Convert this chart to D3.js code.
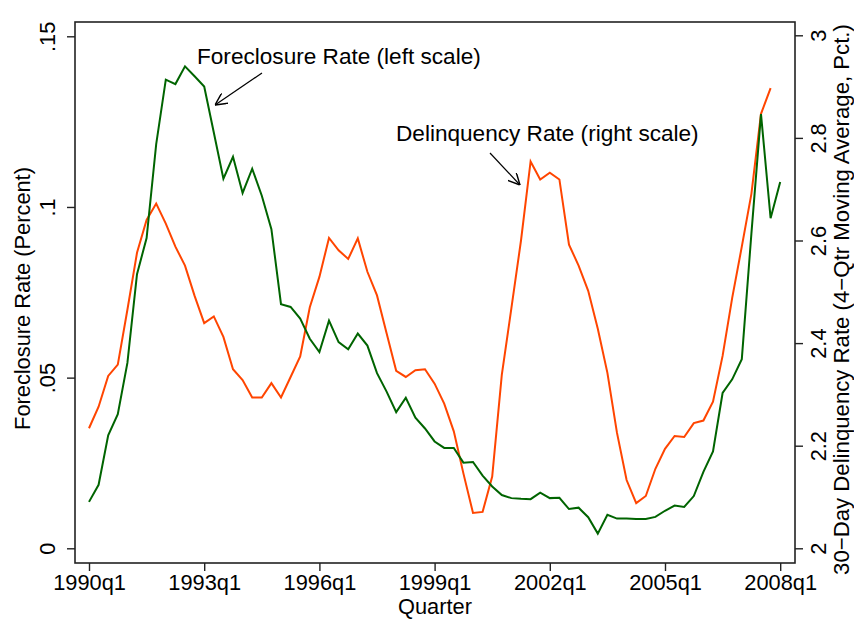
<!DOCTYPE html>
<html><head><meta charset="utf-8">
<script src="https://cdn.jsdelivr.net/npm/d3@7"></script>
<style>
html,body{margin:0;padding:0;background:#fff;}
svg{display:block;font-family:"Liberation Sans",Arial,Helvetica,sans-serif;}
</style></head>
<body><svg id="chart" width="854" height="619"></svg>
<script>
// ---- data ----
const quarters = [];
for (let y = 1990; y <= 2008; y++) for (let q = 1; q <= 4; q++) { if (y === 2008 && q > 1) break; quarters.push(y + "q" + q); }

const foreclosureRate = [
  0.0136,0.0186,0.0331,0.0393,0.0543,0.0803,0.0909,0.1184,0.1373,0.1360,
  0.1412,0.1383,0.1353,0.1218,0.1083,0.1147,0.1041,0.1112,0.1033,0.0935,
  0.0715,0.0707,0.0673,0.0614,0.0575,0.0667,0.0604,0.0583,0.0629,0.0594,
  0.0513,0.0459,0.0399,0.0441,0.0383,0.0351,0.0313,0.0294,0.0294,0.0251,
  0.0253,0.0213,0.0181,0.0156,0.0147,0.0145,0.0144,0.0163,0.0147,0.0148,
  0.0115,0.0119,0.0091,0.0043,0.0098,0.0087,0.0087,0.0086,0.0086,0.0092,
  0.0110,0.0125,0.0121,0.0153,0.0224,0.0284,0.0455,0.0495,0.0554,0.0922,
  0.1272,0.0967,0.1073
];
const delinquencyRate = [
  2.234,2.276,2.336,2.358,2.465,2.576,2.640,2.672,2.633,2.588,
  2.551,2.492,2.439,2.452,2.412,2.349,2.328,2.294,2.294,2.322,
  2.294,2.334,2.374,2.470,2.529,2.605,2.581,2.564,2.604,2.539,
  2.493,2.419,2.346,2.334,2.347,2.349,2.321,2.282,2.228,2.146,
  2.069,2.071,2.140,2.338,2.468,2.600,2.754,2.719,2.732,2.719,
  2.592,2.551,2.502,2.428,2.342,2.225,2.133,2.088,2.102,2.155,
  2.194,2.219,2.217,2.244,2.249,2.286,2.375,2.488,2.588,2.691,
  2.847,2.897
];
const xTickLabels = ["1990q1","1993q1","1996q1","1999q1","2002q1","2005q1","2008q1"];
const leftTicks = [0, 0.05, 0.1, 0.15];
const leftTickLabels = ["0", ".05", ".1", ".15"];
const rightTicks = [2, 2.2, 2.4, 2.6, 2.8, 3];
const rightTickLabels = ["2", "2.2", "2.4", "2.6", "2.8", "3"];

// ---- layout ----
const svg = d3.select("#chart");
const frame = {l: 75, r: 795, t: 22, b: 563};
const x = d3.scaleLinear().domain([0, quarters.length - 1]).range([89, 780.2]);
const yL = d3.scaleLinear().domain([0, 0.15]).range([548.3, 36.3]);
const yR = d3.scaleLinear().domain([2, 3]).range([548.3, 35.3]);
const fs = 21.8;
const axisColor = "#222";

// frame
svg.append("rect").attr("x", frame.l).attr("y", frame.t)
  .attr("width", frame.r - frame.l).attr("height", frame.b - frame.t)
  .attr("fill", "none").attr("stroke", axisColor).attr("stroke-width", 1.6);

// bottom axis
const xAxis = d3.axisBottom(x)
  .tickValues(xTickLabels.map(l => quarters.indexOf(l)))
  .tickFormat(i => quarters[i]).tickSize(8).tickPadding(4);
const gx = svg.append("g").attr("transform", `translate(0,${frame.b})`).call(xAxis);
gx.select(".domain").remove();
gx.selectAll("line").attr("stroke", axisColor).attr("stroke-width", 1.4);
gx.selectAll("text").attr("font-size", fs).attr("fill", "#000").attr("font-family", "Liberation Sans, Arial, sans-serif");

// left axis
const yAxisL = d3.axisLeft(yL).tickValues(leftTicks)
  .tickFormat((d, i) => leftTickLabels[i]).tickSize(8).tickPadding(0);
const gl = svg.append("g").attr("transform", `translate(${frame.l},0)`).call(yAxisL);
gl.select(".domain").remove();
gl.selectAll("line").attr("stroke", axisColor).attr("stroke-width", 1.4);
gl.selectAll("text").attr("font-size", fs).attr("fill", "#000")
  .attr("font-family", "Liberation Sans, Arial, sans-serif")
  .attr("x", null).attr("dy", null)
  .attr("text-anchor", "middle")
  .attr("transform", "translate(-20,0) rotate(-90)")
  .attr("y", 0);

// right axis
const yAxisR = d3.axisRight(yR).tickValues(rightTicks)
  .tickFormat((d, i) => rightTickLabels[i]).tickSize(8).tickPadding(0);
const gr = svg.append("g").attr("transform", `translate(${frame.r},0)`).call(yAxisR);
gr.select(".domain").remove();
gr.selectAll("line").attr("stroke", axisColor).attr("stroke-width", 1.4);
gr.selectAll("text").attr("font-size", fs).attr("fill", "#000")
  .attr("font-family", "Liberation Sans, Arial, sans-serif")
  .attr("x", null).attr("dy", null)
  .attr("text-anchor", "middle")
  .attr("transform", "translate(31,0) rotate(-90)")
  .attr("y", 0);

// axis titles
svg.append("text").attr("transform", `translate(30,${(frame.t + frame.b) / 2 + 6}) rotate(-90)`)
  .attr("text-anchor", "middle").attr("font-size", fs).text("Foreclosure Rate (Percent)");
svg.append("text").attr("transform", `translate(849,${(frame.t + frame.b) / 2 + 7}) rotate(-90)`)
  .attr("text-anchor", "middle").attr("font-size", 22.2).text("30\u2212Day Delinquency Rate (4\u2212Qtr Moving Average, Pct.)");
svg.append("text").attr("x", 435).attr("y", 614).attr("text-anchor", "middle")
  .attr("font-size", fs).text("Quarter");

// lines
const lineL = d3.line().x((d, i) => x(i)).y(d => yL(d));
const lineR = d3.line().x((d, i) => x(i)).y(d => yR(d));
svg.append("path").datum(delinquencyRate).attr("d", lineR)
  .attr("fill", "none").attr("stroke", "#FF4500").attr("stroke-width", 2).attr("stroke-linejoin", "miter");
svg.append("path").datum(foreclosureRate).attr("d", lineL)
  .attr("fill", "none").attr("stroke", "#006400").attr("stroke-width", 2).attr("stroke-linejoin", "miter");

// annotations
svg.append("defs").append("marker").attr("id", "ah").attr("viewBox", "0 0 10 10")
  .attr("refX", 10).attr("refY", 5).attr("markerWidth", 12).attr("markerHeight", 12)
  .attr("markerUnits", "userSpaceOnUse").attr("orient", "auto")
  .append("path").attr("d", "M0,0 L10,5 L0,10").attr("fill", "none").attr("stroke", "#000").attr("stroke-width", 1.2);

svg.append("text").attr("x", 197).attr("y", 64).attr("font-size", 22.6).text("Foreclosure Rate (left scale)");
svg.append("line").attr("x1", 262).attr("y1", 73).attr("x2", 215).attr("y2", 105)
  .attr("stroke", "#000").attr("stroke-width", 1.2).attr("marker-end", "url(#ah)");

svg.append("text").attr("x", 396).attr("y", 141).attr("font-size", 22.6).text("Delinquency Rate (right scale)");
svg.append("line").attr("x1", 490).attr("y1", 153).attr("x2", 520).attr("y2", 185)
  .attr("stroke", "#000").attr("stroke-width", 1.2).attr("marker-end", "url(#ah)");
</script></body></html>
